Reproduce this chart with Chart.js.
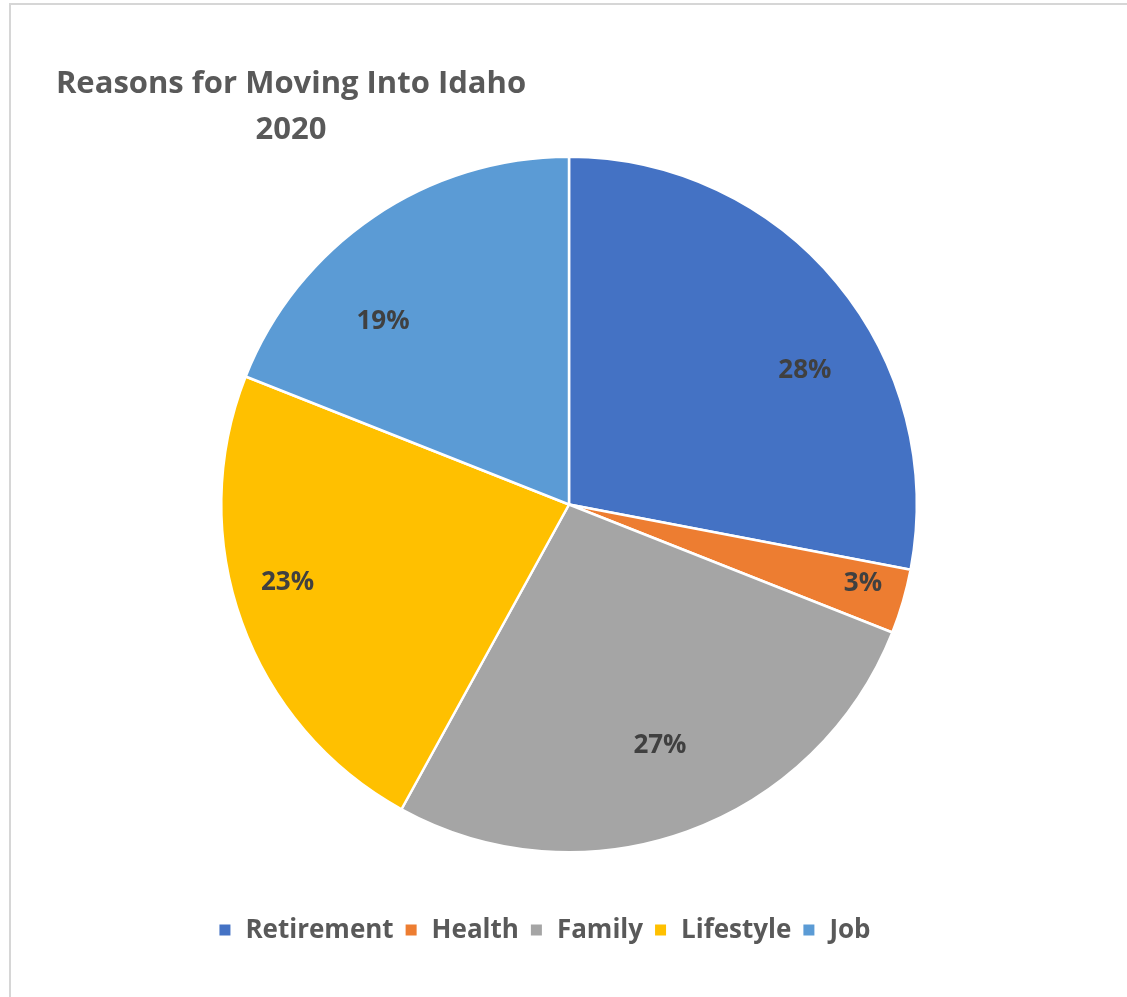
<!DOCTYPE html>
<html>
<head>
<meta charset="utf-8">
<title>Reasons for Moving Into Idaho 2020</title>
<script src="https://cdn.jsdelivr.net/npm/chart.js@4.4.1/dist/chart.umd.min.js"></script>
<style>
  html, body { margin: 0; padding: 0; background: #ffffff; }
  #wrap { position: relative; width: 1127px; height: 997px; overflow: hidden; }
  #frame {
    position: absolute; left: 9px; top: 3px; right: -4px; bottom: -4px;
    border-top: 2px solid #d6d6d6; border-left: 2px solid #d6d6d6;
    pointer-events: none;
  }
  canvas { position: absolute; left: 0; top: 0; }
</style>
</head>
<body>
<div id="wrap">
  <canvas id="chart" width="1127" height="997"></canvas>
  <div id="frame"></div>
</div>
<script>
// Share of people moving into Idaho, by reason (percent)
const categories = ['Retirement', 'Health', 'Family', 'Lifestyle', 'Job'];
const shares = [28, 3, 27, 23, 19];
const titleLines = ['Reasons for Moving Into Idaho', '2020'];

const sliceColors = ['#4472C4', '#ED7D31', '#A5A5A5', '#FFC000', '#5B9BD5'];
// Per-slice label placement: angle shift (degrees) from the slice middle, radius fraction
const labelShift = [10, -1.2, -0.9, 4.3, -11.3];
const labelRadius = [0.78, 0.875, 0.74, 0.84, 0.75];

const FONT = '"Open Sans", "Liberation Sans", sans-serif';

const titlePlugin = {
  id: 'sideTitle',
  afterDraw(chart) {
    const ctx = chart.ctx;
    ctx.save();
    ctx.fillStyle = '#595959';
    ctx.font = 'bold 31px ' + FONT;
    ctx.textAlign = 'center';
    ctx.textBaseline = 'alphabetic';
    ctx.fillText(titleLines[0], 291, 93);
    ctx.fillText(titleLines[1], 291, 139);
    ctx.restore();
  }
};

const sliceLabels = {
  id: 'sliceLabels',
  afterDatasetsDraw(chart) {
    const ctx = chart.ctx;
    const meta = chart.getDatasetMeta(0);
    ctx.save();
    ctx.fillStyle = '#404040';
    ctx.font = 'bold 26px ' + FONT;
    ctx.textAlign = 'center';
    ctx.textBaseline = 'middle';
    meta.data.forEach((arc, i) => {
      const p = arc.getProps(['x', 'y', 'startAngle', 'endAngle', 'outerRadius'], true);
      const a = (p.startAngle + p.endAngle) / 2 + labelShift[i] * Math.PI / 180;
      const r = p.outerRadius * labelRadius[i];
      ctx.fillText(shares[i] + '%', p.x + Math.cos(a) * r, p.y + Math.sin(a) * r);
    });
    ctx.restore();
  }
};

const bottomLegend = {
  id: 'bottomLegend',
  afterDraw(chart) {
    const ctx = chart.ctx;
    const box = 11, gapText = 15, gapItem = 12;
    ctx.save();
    ctx.font = 'bold 26px ' + FONT;
    const widths = categories.map(c => ctx.measureText(c).width);
    const total = widths.reduce((s, w) => s + box + gapText + w, 0) + gapItem * (categories.length - 1);
    let x = 545 - total / 2;
    const y = 930;
    ctx.textBaseline = 'middle';
    ctx.textAlign = 'left';
    categories.forEach((c, i) => {
      ctx.fillStyle = sliceColors[i];
      ctx.fillRect(x, y - box / 2, box, box);
      x += box + gapText;
      ctx.fillStyle = '#595959';
      ctx.fillText(c, x, y + 1);
      x += widths[i] + gapItem;
    });
    ctx.restore();
  }
};

new Chart(document.getElementById('chart'), {
  type: 'pie',
  data: {
    labels: categories,
    datasets: [{
      data: shares,
      backgroundColor: sliceColors,
      borderColor: '#ffffff',
      borderWidth: 2.5
    }]
  },
  options: {
    responsive: false,
    animation: false,
    layout: { padding: { left: 220, right: 209, top: 155, bottom: 143 } },
    plugins: {
      legend: { display: false },
      title: { display: false },
      tooltip: { enabled: false }
    }
  },
  plugins: [titlePlugin, sliceLabels, bottomLegend]
});
</script>
</body>
</html>
